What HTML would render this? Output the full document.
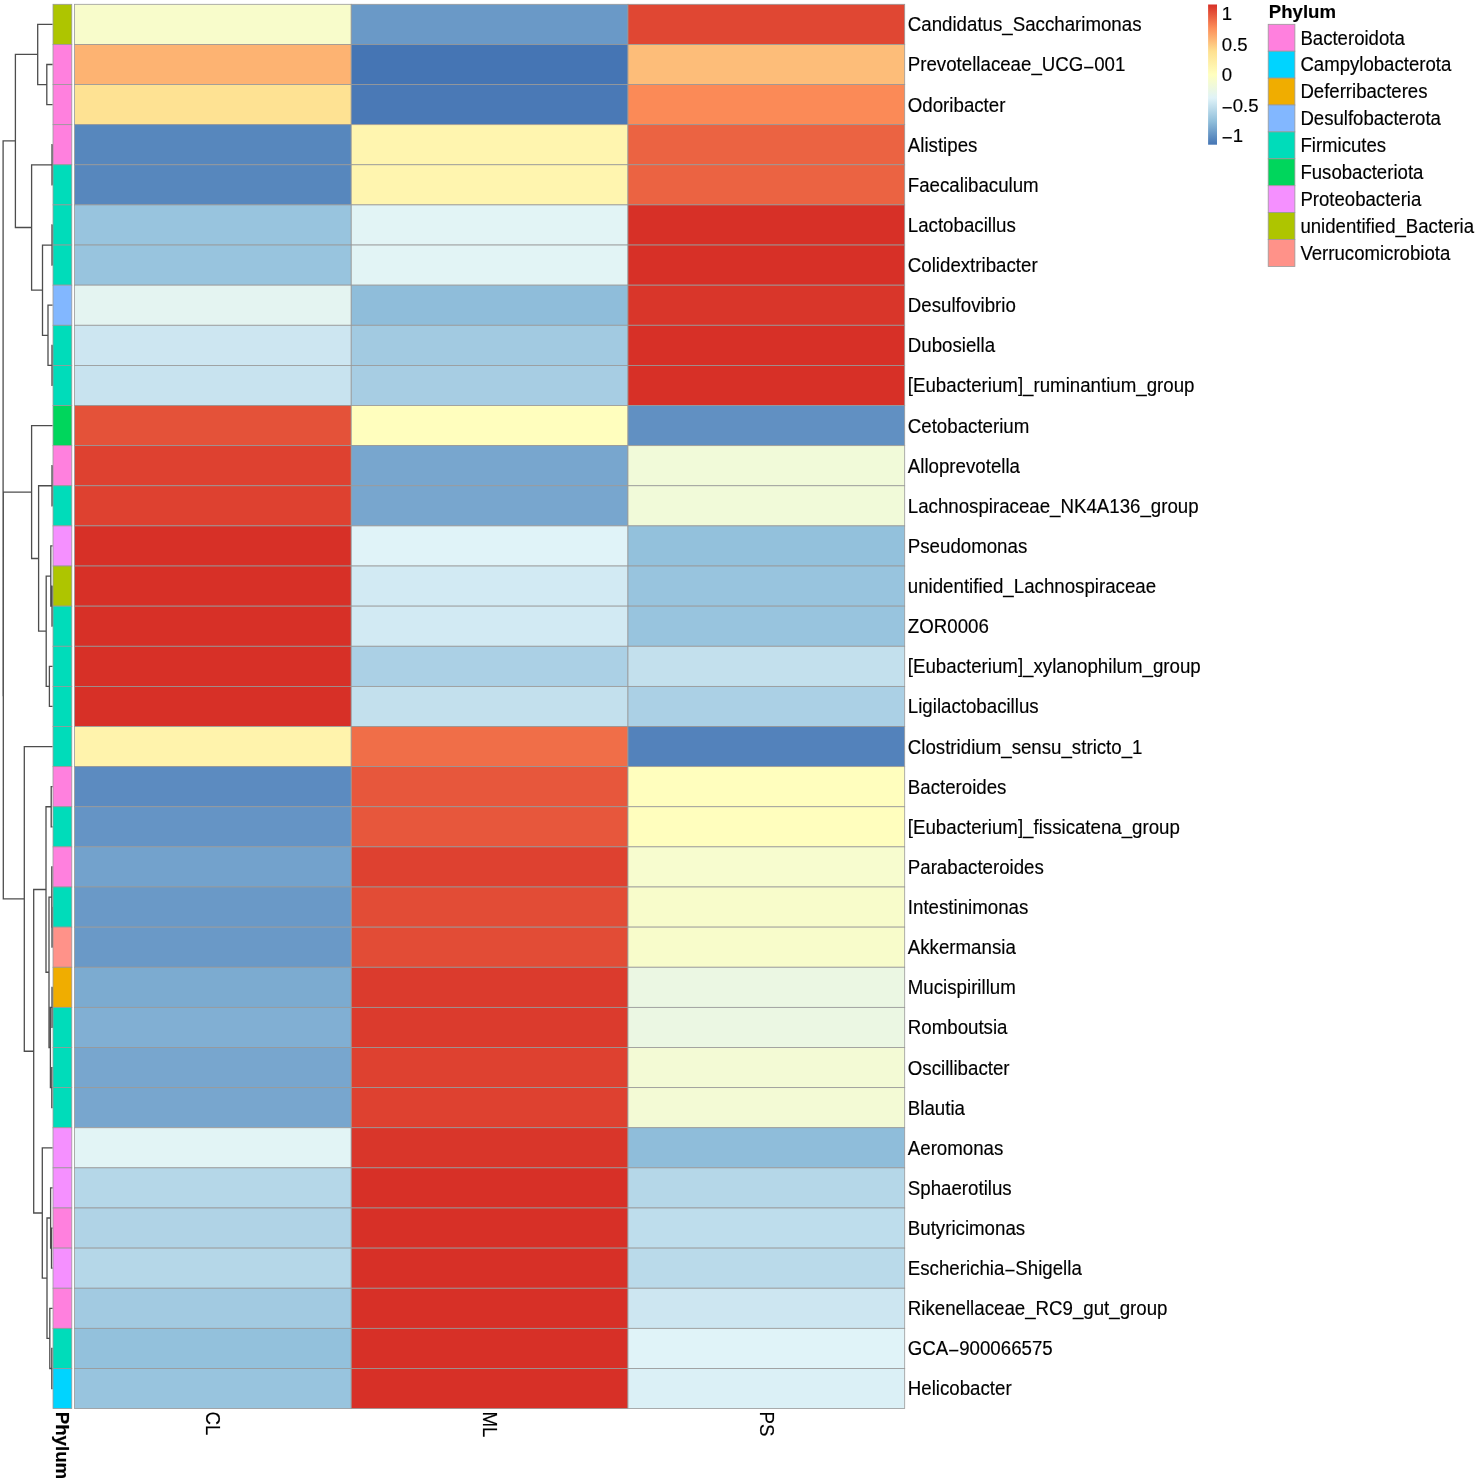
<!DOCTYPE html>
<html><head><meta charset="utf-8"><style>
html,body{margin:0;padding:0;background:#fff;}
body{width:1479px;height:1482px;overflow:hidden;position:relative;}
svg{position:absolute;left:0;top:0;will-change:transform;}
text{font-family:"Liberation Sans",sans-serif;fill:#000;}
</style></head><body>
<svg width="1479" height="1482" viewBox="0 0 1479 1482">

<g stroke="#999999" stroke-width="0.8">
<rect x="74.50" y="4.30" width="276.73" height="40.12" fill="#F8FCCB"/>
<rect x="351.23" y="4.30" width="276.73" height="40.12" fill="#6A99C7"/>
<rect x="627.97" y="4.30" width="276.73" height="40.12" fill="#E04733"/>
<rect x="53.00" y="4.30" width="18.80" height="40.12" fill="#AEC500"/>
<rect x="74.50" y="44.42" width="276.73" height="40.12" fill="#FDB372"/>
<rect x="351.23" y="44.42" width="276.73" height="40.12" fill="#4575B4"/>
<rect x="627.97" y="44.42" width="276.73" height="40.12" fill="#FDBD79"/>
<rect x="53.00" y="44.42" width="18.80" height="40.12" fill="#FF80DE"/>
<rect x="74.50" y="84.55" width="276.73" height="40.12" fill="#FEE293"/>
<rect x="351.23" y="84.55" width="276.73" height="40.12" fill="#4A79B6"/>
<rect x="627.97" y="84.55" width="276.73" height="40.12" fill="#FB8A57"/>
<rect x="53.00" y="84.55" width="18.80" height="40.12" fill="#FF80DE"/>
<rect x="74.50" y="124.67" width="276.73" height="40.12" fill="#5787BD"/>
<rect x="351.23" y="124.67" width="276.73" height="40.12" fill="#FFF5AF"/>
<rect x="627.97" y="124.67" width="276.73" height="40.12" fill="#EB6342"/>
<rect x="53.00" y="124.67" width="18.80" height="40.12" fill="#FF80DE"/>
<rect x="74.50" y="164.79" width="276.73" height="40.12" fill="#5787BD"/>
<rect x="351.23" y="164.79" width="276.73" height="40.12" fill="#FFF5AF"/>
<rect x="627.97" y="164.79" width="276.73" height="40.12" fill="#EB6342"/>
<rect x="53.00" y="164.79" width="18.80" height="40.12" fill="#00DCBA"/>
<rect x="74.50" y="204.91" width="276.73" height="40.12" fill="#98C4DE"/>
<rect x="351.23" y="204.91" width="276.73" height="40.12" fill="#E2F4F5"/>
<rect x="627.97" y="204.91" width="276.73" height="40.12" fill="#D73027"/>
<rect x="53.00" y="204.91" width="18.80" height="40.12" fill="#00DCBA"/>
<rect x="74.50" y="245.04" width="276.73" height="40.12" fill="#98C4DE"/>
<rect x="351.23" y="245.04" width="276.73" height="40.12" fill="#E2F4F5"/>
<rect x="627.97" y="245.04" width="276.73" height="40.12" fill="#D73027"/>
<rect x="53.00" y="245.04" width="18.80" height="40.12" fill="#00DCBA"/>
<rect x="74.50" y="285.16" width="276.73" height="40.12" fill="#E4F4F1"/>
<rect x="351.23" y="285.16" width="276.73" height="40.12" fill="#8FBDDA"/>
<rect x="627.97" y="285.16" width="276.73" height="40.12" fill="#D9362A"/>
<rect x="53.00" y="285.16" width="18.80" height="40.12" fill="#82B7FF"/>
<rect x="74.50" y="325.28" width="276.73" height="40.12" fill="#CDE6F1"/>
<rect x="351.23" y="325.28" width="276.73" height="40.12" fill="#A2CAE1"/>
<rect x="627.97" y="325.28" width="276.73" height="40.12" fill="#D73027"/>
<rect x="53.00" y="325.28" width="18.80" height="40.12" fill="#00DCBA"/>
<rect x="74.50" y="365.41" width="276.73" height="40.12" fill="#C8E3EF"/>
<rect x="351.23" y="365.41" width="276.73" height="40.12" fill="#A7CDE3"/>
<rect x="627.97" y="365.41" width="276.73" height="40.12" fill="#D73027"/>
<rect x="53.00" y="365.41" width="18.80" height="40.12" fill="#00DCBA"/>
<rect x="74.50" y="405.53" width="276.73" height="40.12" fill="#E45239"/>
<rect x="351.23" y="405.53" width="276.73" height="40.12" fill="#FFFEBE"/>
<rect x="627.97" y="405.53" width="276.73" height="40.12" fill="#6190C2"/>
<rect x="53.00" y="405.53" width="18.80" height="40.12" fill="#00D65C"/>
<rect x="74.50" y="445.65" width="276.73" height="40.12" fill="#DE4130"/>
<rect x="351.23" y="445.65" width="276.73" height="40.12" fill="#78A6CE"/>
<rect x="627.97" y="445.65" width="276.73" height="40.12" fill="#F1FAD9"/>
<rect x="53.00" y="445.65" width="18.80" height="40.12" fill="#FF80DE"/>
<rect x="74.50" y="485.77" width="276.73" height="40.12" fill="#DE4130"/>
<rect x="351.23" y="485.77" width="276.73" height="40.12" fill="#78A6CE"/>
<rect x="627.97" y="485.77" width="276.73" height="40.12" fill="#F1FAD9"/>
<rect x="53.00" y="485.77" width="18.80" height="40.12" fill="#00DCBA"/>
<rect x="74.50" y="525.90" width="276.73" height="40.12" fill="#D73027"/>
<rect x="351.23" y="525.90" width="276.73" height="40.12" fill="#E0F3F8"/>
<rect x="627.97" y="525.90" width="276.73" height="40.12" fill="#93C1DC"/>
<rect x="53.00" y="525.90" width="18.80" height="40.12" fill="#F590FF"/>
<rect x="74.50" y="566.02" width="276.73" height="40.12" fill="#D73027"/>
<rect x="351.23" y="566.02" width="276.73" height="40.12" fill="#D2EAF3"/>
<rect x="627.97" y="566.02" width="276.73" height="40.12" fill="#98C4DE"/>
<rect x="53.00" y="566.02" width="18.80" height="40.12" fill="#AEC500"/>
<rect x="74.50" y="606.14" width="276.73" height="40.12" fill="#D73027"/>
<rect x="351.23" y="606.14" width="276.73" height="40.12" fill="#D2EAF3"/>
<rect x="627.97" y="606.14" width="276.73" height="40.12" fill="#98C4DE"/>
<rect x="53.00" y="606.14" width="18.80" height="40.12" fill="#00DCBA"/>
<rect x="74.50" y="646.27" width="276.73" height="40.12" fill="#D73027"/>
<rect x="351.23" y="646.27" width="276.73" height="40.12" fill="#ABD0E5"/>
<rect x="627.97" y="646.27" width="276.73" height="40.12" fill="#C3E0ED"/>
<rect x="53.00" y="646.27" width="18.80" height="40.12" fill="#00DCBA"/>
<rect x="74.50" y="686.39" width="276.73" height="40.12" fill="#D73027"/>
<rect x="351.23" y="686.39" width="276.73" height="40.12" fill="#C3E0ED"/>
<rect x="627.97" y="686.39" width="276.73" height="40.12" fill="#ABD0E5"/>
<rect x="53.00" y="686.39" width="18.80" height="40.12" fill="#00DCBA"/>
<rect x="74.50" y="726.51" width="276.73" height="40.12" fill="#FFF3AC"/>
<rect x="351.23" y="726.51" width="276.73" height="40.12" fill="#F06E48"/>
<rect x="627.97" y="726.51" width="276.73" height="40.12" fill="#5382BB"/>
<rect x="53.00" y="726.51" width="18.80" height="40.12" fill="#00DCBA"/>
<rect x="74.50" y="766.63" width="276.73" height="40.12" fill="#5C8BC0"/>
<rect x="351.23" y="766.63" width="276.73" height="40.12" fill="#E7573C"/>
<rect x="627.97" y="766.63" width="276.73" height="40.12" fill="#FFFEBE"/>
<rect x="53.00" y="766.63" width="18.80" height="40.12" fill="#FF80DE"/>
<rect x="74.50" y="806.76" width="276.73" height="40.12" fill="#6594C5"/>
<rect x="351.23" y="806.76" width="276.73" height="40.12" fill="#E7573C"/>
<rect x="627.97" y="806.76" width="276.73" height="40.12" fill="#FFFEBE"/>
<rect x="53.00" y="806.76" width="18.80" height="40.12" fill="#00DCBA"/>
<rect x="74.50" y="846.88" width="276.73" height="40.12" fill="#73A2CC"/>
<rect x="351.23" y="846.88" width="276.73" height="40.12" fill="#DE4130"/>
<rect x="627.97" y="846.88" width="276.73" height="40.12" fill="#F7FCCF"/>
<rect x="53.00" y="846.88" width="18.80" height="40.12" fill="#FF80DE"/>
<rect x="74.50" y="887.00" width="276.73" height="40.12" fill="#6A99C7"/>
<rect x="351.23" y="887.00" width="276.73" height="40.12" fill="#E24C36"/>
<rect x="627.97" y="887.00" width="276.73" height="40.12" fill="#F8FCCB"/>
<rect x="53.00" y="887.00" width="18.80" height="40.12" fill="#00DCBA"/>
<rect x="74.50" y="927.13" width="276.73" height="40.12" fill="#6A99C7"/>
<rect x="351.23" y="927.13" width="276.73" height="40.12" fill="#E24C36"/>
<rect x="627.97" y="927.13" width="276.73" height="40.12" fill="#F8FCCB"/>
<rect x="53.00" y="927.13" width="18.80" height="40.12" fill="#FF9289"/>
<rect x="74.50" y="967.25" width="276.73" height="40.12" fill="#7CABD0"/>
<rect x="351.23" y="967.25" width="276.73" height="40.12" fill="#DB3B2D"/>
<rect x="627.97" y="967.25" width="276.73" height="40.12" fill="#EBF7E3"/>
<rect x="53.00" y="967.25" width="18.80" height="40.12" fill="#F0AD00"/>
<rect x="74.50" y="1007.37" width="276.73" height="40.12" fill="#81AFD3"/>
<rect x="351.23" y="1007.37" width="276.73" height="40.12" fill="#DB3B2D"/>
<rect x="627.97" y="1007.37" width="276.73" height="40.12" fill="#EBF7E3"/>
<rect x="53.00" y="1007.37" width="18.80" height="40.12" fill="#00DCBA"/>
<rect x="74.50" y="1047.49" width="276.73" height="40.12" fill="#78A6CE"/>
<rect x="351.23" y="1047.49" width="276.73" height="40.12" fill="#DE4130"/>
<rect x="627.97" y="1047.49" width="276.73" height="40.12" fill="#F3FAD5"/>
<rect x="53.00" y="1047.49" width="18.80" height="40.12" fill="#00DCBA"/>
<rect x="74.50" y="1087.62" width="276.73" height="40.12" fill="#78A6CE"/>
<rect x="351.23" y="1087.62" width="276.73" height="40.12" fill="#DE4130"/>
<rect x="627.97" y="1087.62" width="276.73" height="40.12" fill="#F3FAD5"/>
<rect x="53.00" y="1087.62" width="18.80" height="40.12" fill="#00DCBA"/>
<rect x="74.50" y="1127.74" width="276.73" height="40.12" fill="#E2F4F5"/>
<rect x="351.23" y="1127.74" width="276.73" height="40.12" fill="#D9362A"/>
<rect x="627.97" y="1127.74" width="276.73" height="40.12" fill="#8FBDDA"/>
<rect x="53.00" y="1127.74" width="18.80" height="40.12" fill="#F590FF"/>
<rect x="74.50" y="1167.86" width="276.73" height="40.12" fill="#B5D7E8"/>
<rect x="351.23" y="1167.86" width="276.73" height="40.12" fill="#D73027"/>
<rect x="627.97" y="1167.86" width="276.73" height="40.12" fill="#B5D7E8"/>
<rect x="53.00" y="1167.86" width="18.80" height="40.12" fill="#F590FF"/>
<rect x="74.50" y="1207.99" width="276.73" height="40.12" fill="#B0D3E6"/>
<rect x="351.23" y="1207.99" width="276.73" height="40.12" fill="#D73027"/>
<rect x="627.97" y="1207.99" width="276.73" height="40.12" fill="#BEDDEC"/>
<rect x="53.00" y="1207.99" width="18.80" height="40.12" fill="#FF80DE"/>
<rect x="74.50" y="1248.11" width="276.73" height="40.12" fill="#B5D7E8"/>
<rect x="351.23" y="1248.11" width="276.73" height="40.12" fill="#D73027"/>
<rect x="627.97" y="1248.11" width="276.73" height="40.12" fill="#BADAEA"/>
<rect x="53.00" y="1248.11" width="18.80" height="40.12" fill="#F590FF"/>
<rect x="74.50" y="1288.23" width="276.73" height="40.12" fill="#A2CAE1"/>
<rect x="351.23" y="1288.23" width="276.73" height="40.12" fill="#D73027"/>
<rect x="627.97" y="1288.23" width="276.73" height="40.12" fill="#CDE6F1"/>
<rect x="53.00" y="1288.23" width="18.80" height="40.12" fill="#FF80DE"/>
<rect x="74.50" y="1328.35" width="276.73" height="40.12" fill="#93C1DC"/>
<rect x="351.23" y="1328.35" width="276.73" height="40.12" fill="#D73027"/>
<rect x="627.97" y="1328.35" width="276.73" height="40.12" fill="#E0F3F8"/>
<rect x="53.00" y="1328.35" width="18.80" height="40.12" fill="#00DCBA"/>
<rect x="74.50" y="1368.48" width="276.73" height="40.12" fill="#98C4DE"/>
<rect x="351.23" y="1368.48" width="276.73" height="40.12" fill="#D73027"/>
<rect x="627.97" y="1368.48" width="276.73" height="40.12" fill="#DBF0F6"/>
<rect x="53.00" y="1368.48" width="18.80" height="40.12" fill="#00D4FF"/>
</g>
<path d="M52.50 64.48H46.80V104.61H52.50M52.50 24.36H37.70V84.55H46.80M52.50 144.73H52.00V184.85H52.50M52.50 224.98H52.00V265.10H52.50M52.50 345.34H52.00V385.47H52.50M52.50 305.22H48.00V365.41H52.00M52.00 245.04H42.50V335.31H48.00M52.00 164.79H31.60V290.18H42.50M37.70 54.45H15.40V227.48H31.60M52.50 465.71H52.00V505.84H52.50M52.50 586.08H52.00V626.20H52.50M52.50 545.96H50.80V606.14H52.00M52.50 666.33H49.40V706.45H52.50M50.80 576.05H46.20V686.39H49.40M52.00 485.77H38.60V631.22H46.20M52.50 425.59H31.60V558.50H38.60M52.50 786.70H51.20V826.82H52.50M52.50 907.06H52.00V947.19H52.50M52.50 866.94H51.80V927.13H52.00M52.50 987.31H52.00V1027.43H52.50M52.50 1067.56H51.80V1107.68H52.50M52.00 1007.37H50.40V1087.62H51.80M51.80 897.03H49.00V1047.49H50.40M51.20 806.76H46.00V972.26H49.00M52.50 1228.05H51.50V1268.17H52.50M52.50 1187.92H50.60V1248.11H51.50M52.50 1348.42H51.80V1388.54H52.50M52.50 1308.29H49.80V1368.48H51.80M50.60 1218.02H47.00V1338.39H49.80M52.50 1147.80H42.30V1278.20H47.00M46.00 889.51H33.70V1213.00H42.30M52.50 746.57H24.30V1051.26H33.70M31.60 492.04H3.30V898.91H24.30M15.40 140.97H3.10V695.48H3.30" fill="none" stroke="#4d4d4d" stroke-width="1.3" stroke-linecap="butt"/>
<text transform="translate(907.80,31.31) scale(1,1.05)" font-size="18.7" stroke="#000" stroke-width="0.15">Candidatus_Saccharimonas</text>
<text transform="translate(907.80,71.43) scale(1,1.05)" font-size="18.7" stroke="#000" stroke-width="0.15">Prevotellaceae_UCG<tspan dy="2.0">−</tspan><tspan dy="-2.0">001</tspan></text>
<text transform="translate(907.80,111.56) scale(1,1.05)" font-size="18.7" stroke="#000" stroke-width="0.15">Odoribacter</text>
<text transform="translate(907.80,151.68) scale(1,1.05)" font-size="18.7" stroke="#000" stroke-width="0.15">Alistipes</text>
<text transform="translate(907.80,191.80) scale(1,1.05)" font-size="18.7" stroke="#000" stroke-width="0.15">Faecalibaculum</text>
<text transform="translate(907.80,231.93) scale(1,1.05)" font-size="18.7" stroke="#000" stroke-width="0.15">Lactobacillus</text>
<text transform="translate(907.80,272.05) scale(1,1.05)" font-size="18.7" stroke="#000" stroke-width="0.15">Colidextribacter</text>
<text transform="translate(907.80,312.17) scale(1,1.05)" font-size="18.7" stroke="#000" stroke-width="0.15">Desulfovibrio</text>
<text transform="translate(907.80,352.29) scale(1,1.05)" font-size="18.7" stroke="#000" stroke-width="0.15">Dubosiella</text>
<text transform="translate(907.80,392.42) scale(1,1.05)" font-size="18.7" stroke="#000" stroke-width="0.15">[Eubacterium]_ruminantium_group</text>
<text transform="translate(907.80,432.54) scale(1,1.05)" font-size="18.7" stroke="#000" stroke-width="0.15">Cetobacterium</text>
<text transform="translate(907.80,472.66) scale(1,1.05)" font-size="18.7" stroke="#000" stroke-width="0.15">Alloprevotella</text>
<text transform="translate(907.80,512.79) scale(1,1.05)" font-size="18.7" stroke="#000" stroke-width="0.15">Lachnospiraceae_NK4A136_group</text>
<text transform="translate(907.80,552.91) scale(1,1.05)" font-size="18.7" stroke="#000" stroke-width="0.15">Pseudomonas</text>
<text transform="translate(907.80,593.03) scale(1,1.05)" font-size="18.7" stroke="#000" stroke-width="0.15">unidentified_Lachnospiraceae</text>
<text transform="translate(907.80,633.15) scale(1,1.05)" font-size="18.7" stroke="#000" stroke-width="0.15">ZOR0006</text>
<text transform="translate(907.80,673.28) scale(1,1.05)" font-size="18.7" stroke="#000" stroke-width="0.15">[Eubacterium]_xylanophilum_group</text>
<text transform="translate(907.80,713.40) scale(1,1.05)" font-size="18.7" stroke="#000" stroke-width="0.15">Ligilactobacillus</text>
<text transform="translate(907.80,753.52) scale(1,1.05)" font-size="18.7" stroke="#000" stroke-width="0.15">Clostridium_sensu_stricto_1</text>
<text transform="translate(907.80,793.65) scale(1,1.05)" font-size="18.7" stroke="#000" stroke-width="0.15">Bacteroides</text>
<text transform="translate(907.80,833.77) scale(1,1.05)" font-size="18.7" stroke="#000" stroke-width="0.15">[Eubacterium]_fissicatena_group</text>
<text transform="translate(907.80,873.89) scale(1,1.05)" font-size="18.7" stroke="#000" stroke-width="0.15">Parabacteroides</text>
<text transform="translate(907.80,914.01) scale(1,1.05)" font-size="18.7" stroke="#000" stroke-width="0.15">Intestinimonas</text>
<text transform="translate(907.80,954.14) scale(1,1.05)" font-size="18.7" stroke="#000" stroke-width="0.15">Akkermansia</text>
<text transform="translate(907.80,994.26) scale(1,1.05)" font-size="18.7" stroke="#000" stroke-width="0.15">Mucispirillum</text>
<text transform="translate(907.80,1034.38) scale(1,1.05)" font-size="18.7" stroke="#000" stroke-width="0.15">Romboutsia</text>
<text transform="translate(907.80,1074.51) scale(1,1.05)" font-size="18.7" stroke="#000" stroke-width="0.15">Oscillibacter</text>
<text transform="translate(907.80,1114.63) scale(1,1.05)" font-size="18.7" stroke="#000" stroke-width="0.15">Blautia</text>
<text transform="translate(907.80,1154.75) scale(1,1.05)" font-size="18.7" stroke="#000" stroke-width="0.15">Aeromonas</text>
<text transform="translate(907.80,1194.87) scale(1,1.05)" font-size="18.7" stroke="#000" stroke-width="0.15">Sphaerotilus</text>
<text transform="translate(907.80,1235.00) scale(1,1.05)" font-size="18.7" stroke="#000" stroke-width="0.15">Butyricimonas</text>
<text transform="translate(907.80,1275.12) scale(1,1.05)" font-size="18.7" stroke="#000" stroke-width="0.15">Escherichia<tspan dy="2.0">−</tspan><tspan dy="-2.0">Shigella</tspan></text>
<text transform="translate(907.80,1315.24) scale(1,1.05)" font-size="18.7" stroke="#000" stroke-width="0.15">Rikenellaceae_RC9_gut_group</text>
<text transform="translate(907.80,1355.37) scale(1,1.05)" font-size="18.7" stroke="#000" stroke-width="0.15">GCA<tspan dy="2.0">−</tspan><tspan dy="-2.0">900066575</tspan></text>
<text transform="translate(907.80,1395.49) scale(1,1.05)" font-size="18.7" stroke="#000" stroke-width="0.15">Helicobacter</text>
<text transform="translate(206.07,1411.50) rotate(90) scale(1,1.05)" font-size="18.7" stroke="#000" stroke-width="0.15">CL</text>
<text transform="translate(482.80,1411.50) rotate(90) scale(1,1.05)" font-size="18.7" stroke="#000" stroke-width="0.15">ML</text>
<text transform="translate(759.53,1411.50) rotate(90) scale(1,1.05)" font-size="18.7" stroke="#000" stroke-width="0.15">PS</text>
<text transform="translate(56.20,1411.70) rotate(90)" font-size="18.7" font-weight="bold" stroke="#000" stroke-width="0.15">Phylum</text>
<defs><linearGradient id="lg" x1="0" y1="1" x2="0" y2="0">
<stop offset="0.0000" stop-color="#4575B4"/>
<stop offset="0.1667" stop-color="#91BFDB"/>
<stop offset="0.3333" stop-color="#E0F3F8"/>
<stop offset="0.5000" stop-color="#FFFFBF"/>
<stop offset="0.6667" stop-color="#FEE090"/>
<stop offset="0.8333" stop-color="#FC8D59"/>
<stop offset="1.0000" stop-color="#D73027"/>
</linearGradient></defs>
<rect x="1208.1" y="4.5" width="8.9" height="140.20" fill="url(#lg)"/>
<text transform="translate(1221.80,20.49)" font-size="18.6" stroke="#000" stroke-width="0.15">1</text>
<text transform="translate(1221.80,50.85)" font-size="18.6" stroke="#000" stroke-width="0.15">0.5</text>
<text transform="translate(1221.80,81.20)" font-size="18.6" stroke="#000" stroke-width="0.15">0</text>
<text transform="translate(1221.80,111.55)" font-size="18.6" stroke="#000" stroke-width="0.15"><tspan dy="2.0">−</tspan><tspan dy="-2.0">0.5</tspan></text>
<text transform="translate(1221.80,141.91)" font-size="18.6" stroke="#000" stroke-width="0.15"><tspan dy="2.0">−</tspan><tspan dy="-2.0">1</tspan></text>
<text transform="translate(1268.80,17.70)" font-size="18.6" font-weight="bold" stroke="#000" stroke-width="0.15">Phylum</text>
<g stroke="#999999" stroke-width="0.8">
<rect x="1268.2" y="24.30" width="26.7" height="26.90" fill="#FF80DE"/>
<rect x="1268.2" y="51.20" width="26.7" height="26.90" fill="#00D4FF"/>
<rect x="1268.2" y="78.10" width="26.7" height="26.90" fill="#F0AD00"/>
<rect x="1268.2" y="105.00" width="26.7" height="26.90" fill="#82B7FF"/>
<rect x="1268.2" y="131.90" width="26.7" height="26.90" fill="#00DCBA"/>
<rect x="1268.2" y="158.80" width="26.7" height="26.90" fill="#00D65C"/>
<rect x="1268.2" y="185.70" width="26.7" height="26.90" fill="#F590FF"/>
<rect x="1268.2" y="212.60" width="26.7" height="26.90" fill="#AEC500"/>
<rect x="1268.2" y="239.50" width="26.7" height="26.90" fill="#FF9289"/>
</g>
<text transform="translate(1300.40,44.50) scale(1,1.05)" font-size="18.6" stroke="#000" stroke-width="0.15">Bacteroidota</text>
<text transform="translate(1300.40,71.40) scale(1,1.05)" font-size="18.6" stroke="#000" stroke-width="0.15">Campylobacterota</text>
<text transform="translate(1300.40,98.30) scale(1,1.05)" font-size="18.6" stroke="#000" stroke-width="0.15">Deferribacteres</text>
<text transform="translate(1300.40,125.20) scale(1,1.05)" font-size="18.6" stroke="#000" stroke-width="0.15">Desulfobacterota</text>
<text transform="translate(1300.40,152.10) scale(1,1.05)" font-size="18.6" stroke="#000" stroke-width="0.15">Firmicutes</text>
<text transform="translate(1300.40,179.00) scale(1,1.05)" font-size="18.6" stroke="#000" stroke-width="0.15">Fusobacteriota</text>
<text transform="translate(1300.40,205.90) scale(1,1.05)" font-size="18.6" stroke="#000" stroke-width="0.15">Proteobacteria</text>
<text transform="translate(1300.40,232.80) scale(1,1.05)" font-size="18.6" stroke="#000" stroke-width="0.15">unidentified_Bacteria</text>
<text transform="translate(1300.40,259.70) scale(1,1.05)" font-size="18.6" stroke="#000" stroke-width="0.15">Verrucomicrobiota</text>
</svg></body></html>
